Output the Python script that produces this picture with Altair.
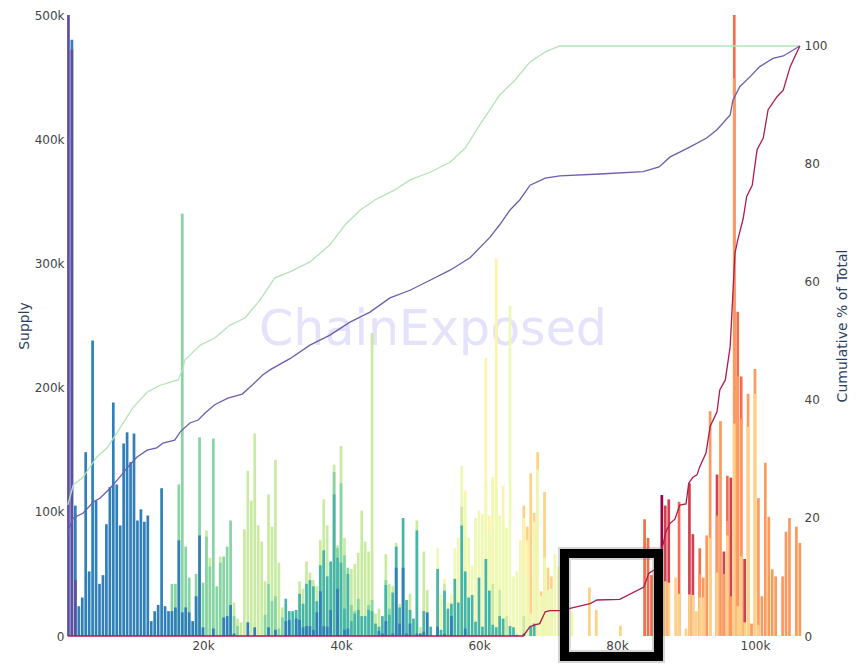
import altair as alt
import pandas as pd

# ---------------- data ----------------
BIN_WIDTH = 500  # price bins: bin k is centred on (k + 1) * 500 USD
# supply per price bin, in thousands, one dict per age band (bin index -> supply k)
CRIMSON = {172: 113.5}
RED = {173: 105, 174: 110, 180: 123, 181: 82, 188: 130, 190: 68, 192: 127.5, 196: 62}
REDORANGE = {167: 94, 168: 79, 169: 49, 177: 108, 183: 70.6, 191: 129, 193: 500,
             194: 261, 195: 209}
ORANGE = {183: 50, 184: 47, 185: 81, 186: 181, 188: 97, 189: 173, 190: 50, 191: 92.6,
          192: 32, 193: 449, 194: 209, 195: 175, 197: 195, 198: 10, 199: 215, 200: 111,
          201: 32, 202: 139.5, 203: 96, 204: 53.7, 205: 48, 207: 48, 208: 84, 209: 95,
          211: 88, 212: 75}
LIGHTORANGE = {132: 105, 133: 88, 134: 131, 135: 99, 136: 148, 137: 36, 138: 116,
               139: 55, 140: 48, 151: 39, 153: 21, 160: 8.3, 173: 44, 174: 43, 176: 47,
               177: 34, 179: 6, 180: 33.5, 181: 33, 182: 20, 183: 31, 184: 31, 186: 79,
               188: 51, 191: 81, 193: 171, 194: 24, 195: 64, 196: 11, 197: 168.5,
               199: 195, 200: 9}
YELLOW = {109: 46, 115: 117, 121: 224, 122: 97, 123: 128, 124: 304, 126: 121, 132: 95,
          133: 77, 135: 92}
PALEYELLOW = {107: 70.6, 108: 33, 110: 27, 111: 33.5, 112: 70.6, 113: 79, 114: 137,
              115: 112, 116: 79, 117: 57, 118: 95, 119: 101, 120: 98, 121: 123, 122: 85,
              123: 128, 124: 120, 125: 97, 126: 90, 127: 87, 128: 266, 129: 48, 130: 52,
              131: 77, 132: 60, 133: 49, 134: 18, 135: 77, 136: 134, 137: 32, 138: 63,
              139: 37, 140: 38, 141: 66, 142: 56, 146: 19.6}
LIGHTGREEN = {40: 85, 41: 63, 44: 64, 48: 27, 49: 14, 50: 11, 51: 86, 52: 133, 53: 109,
              54: 163, 55: 89, 56: 76, 57: 44, 58: 114, 59: 88, 60: 142, 61: 59, 62: 23,
              67: 44, 68: 38, 69: 60, 70: 51, 71: 45, 72: 40, 73: 77, 74: 110, 75: 89,
              77: 138, 78: 73, 79: 153, 80: 79, 82: 54, 83: 58, 84: 67, 85: 101, 86: 76,
              87: 68, 88: 244, 89: 18, 90: 22, 92: 66, 93: 42, 94: 40, 95: 75, 96: 26,
              99: 34, 101: 93, 102: 7, 103: 68, 104: 37, 109: 42, 114: 104, 123: 42,
              125: 37, 127: 16, 132: 16}
GREEN = {30: 42, 31: 42, 32: 122, 33: 340, 34: 72, 35: 47, 37: 50, 38: 160, 39: 43,
         40: 80, 41: 56, 42: 159, 43: 40, 44: 59, 45: 64, 46: 72, 47: 93, 48: 16, 49: 8,
         57: 17, 58: 42, 59: 28, 60: 32, 61: 6, 62: 15, 77: 132, 78: 71, 79: 123, 80: 65,
         81: 55, 82: 25, 83: 20, 84: 30, 87: 25, 88: 29, 92: 45, 93: 22}
TEAL = {63: 30, 64: 20, 65: 20, 66: 21, 67: 34, 68: 26, 69: 42, 70: 45, 71: 40, 72: 28,
        73: 57, 74: 69, 75: 48, 76: 60, 77: 114, 78: 63, 79: 59, 80: 22, 81: 50, 82: 12,
        83: 18, 84: 21, 85: 16, 86: 16, 87: 21, 88: 20, 89: 10, 90: 7.5, 91: 16, 92: 41,
        93: 17, 94: 35, 95: 72, 96: 23, 97: 95, 98: 29, 99: 21, 100: 14, 101: 85, 103: 20,
        105: 7.5, 107: 54, 108: 5, 109: 36.5, 110: 22, 111: 26, 112: 46, 113: 27, 114: 89,
        115: 52, 116: 31, 117: 33, 118: 11.5, 119: 47, 120: 7.5, 121: 62, 122: 36.5,
        123: 9, 124: 7, 125: 16, 126: 14, 128: 8, 129: 7, 130: 1, 134: 7.5, 135: 10}
BLUE = {1: 480, 2: 105, 3: 24, 4: 31, 5: 148, 6: 52, 7: 238, 8: 109, 9: 42, 10: 49,
        11: 90, 12: 120, 13: 188, 14: 122, 15: 89, 16: 155, 17: 164, 18: 140, 19: 163,
        20: 93, 21: 102, 22: 92, 23: 97, 24: 12, 25: 20, 26: 25, 27: 119, 28: 24, 29: 20,
        30: 20, 31: 23, 32: 77, 33: 19, 34: 23, 35: 19, 36: 12, 37: 32, 38: 81, 39: 7,
        42: 6, 45: 15, 46: 16, 47: 25, 48: 2, 52: 11, 54: 7, 58: 7, 60: 5, 63: 12, 64: 13,
        66: 14, 67: 13, 68: 7, 69: 8, 70: 8, 71: 5, 72: 19, 73: 36, 74: 8, 75: 7.5, 76: 21,
        78: 38, 80: 5, 81: 6, 90: 4, 91: 2, 92: 12, 94: 2, 95: 55, 96: 10, 97: 55, 98: 2,
        99: 10, 101: 2, 102: 2, 103: 3.5, 104: 19, 107: 7.5, 109: 1.6, 111: 16, 115: 6,
        132: 2}
PURPLE = {0: 500, 1: 472, 2: 45}

# drawing order: back to front
SERIES = [
    ("crimson", CRIMSON, "#9e0142"),
    ("red", RED, "#d5404f"),
    ("redorange", REDORANGE, "#f46c4b"),
    ("orange", ORANGE, "#fd9a5b"),
    ("lightorange", LIGHTORANGE, "#fed183"),
    ("yellow", YELLOW, "#fff3ac"),
    ("paleyellow", PALEYELLOW, "#eef9b4"),
    ("lightgreen", LIGHTGREEN, "#c9eba1"),
    ("green", GREEN, "#87d4a4"),
    ("teal", TEAL, "#46b5a9"),
    ("blue", BLUE, "#2f80ba"),
    ("purple", PURPLE, "#5e4fa2"),
]

# cumulative % of total lines (price in thousands, percent)
GREEN_PRICE_K = [0.4, 1.2, 2.6, 3.6, 4.6, 6.1, 7.5, 9.9, 12.0, 13.8, 16.4, 17.0, 17.4,
                 19.6, 21.7, 23.9, 26.1, 28.3, 30.4, 32.6, 35.5, 38.4, 40.6, 42.8, 44.9,
                 47.8, 50.0, 52.9, 55.8, 58.0, 60.1, 61.6, 63.0, 65.2, 67.4, 69.6, 71.7,
                 106.5]
GREEN_PCT = [22.2, 25.6, 26.9, 28.6, 30.3, 31.9, 34.4, 38.8, 41.4, 42.5, 43.4, 45.1, 46.8,
             49.3, 50.5, 52.7, 53.9, 57.0, 60.7, 61.7, 63.4, 66.3, 69.7, 72.2, 73.9, 75.6,
             77.3, 78.6, 80.3, 82.7, 86.6, 89.2, 91.7, 94.2, 97.3, 99.0, 100, 100]
PURPLE_PRICE_K = [0.5, 1.2, 2.6, 4.1, 5.1, 6.5, 8.0, 9.0, 10.4, 11.9, 13.3, 14.2, 15.9,
                  16.7, 18.1, 19.3, 20.3, 21.7, 23.6, 25.7, 27.1, 28.6, 29.7, 32.6, 35.5,
                  38.4, 41.3, 44.2, 47.1, 50.0, 52.9, 55.8, 58.7, 61.6, 63.0, 64.5, 65.9,
                  67.4, 69.6, 71.7, 77.5, 83.8, 86.1, 87.7, 89.1, 90.6, 93.0, 94.5, 96.4,
                  96.8, 97.8, 99.3, 100.7, 102.6, 104.1, 106.5]
PURPLE_PCT = [18.0, 20.0, 20.8, 22.7, 23.4, 25.0, 27.0, 28.5, 30.3, 31.5, 31.9, 32.7,
              33.2, 34.6, 36.1, 36.6, 37.8, 39.2, 40.3, 41.0, 42.5, 44.2, 45.1, 47.0,
              49.3, 51.0, 53.2, 54.9, 57.3, 58.6, 60.3, 62.0, 64.1, 67.6, 69.7, 72.2,
              73.9, 76.4, 77.6, 78.0, 78.3, 78.7, 79.5, 81.2, 82.0, 82.9, 84.4, 85.8,
              88.3, 90.8, 93.1, 94.8, 96.5, 97.9, 98.3, 100]
CRIMSON_PRICE_K = [0.4, 66.4, 67.4, 68.1, 68.8, 69.6, 70.3, 71.7, 73.2, 76.1, 77.1, 80.4,
                   83.9, 84.6, 85.5, 86.5, 87.1, 87.7, 88.4, 89.1, 90.0, 90.4, 91.0, 91.6,
                   92.0, 92.9, 93.5, 94.5, 94.9, 95.7, 96.4, 96.8, 97.1, 97.5, 98.3, 98.8,
                   99.6, 100.3, 101.2, 101.9, 103.2, 104.1, 105.1, 106.5]
CRIMSON_PCT = [0, 0, 1.6, 1.9, 2.1, 4.1, 4.3, 4.3, 4.7, 5.5, 6.1, 6.2, 8.3, 10.6, 11.3,
               14.6, 17.7, 19.1, 19.8, 22.2, 22.4, 25.9, 26.9, 27.3, 28.7, 31.0, 35.5,
               38.0, 41.7, 43.4, 49.0, 58.0, 64.9, 67.1, 70.8, 74.5, 76.4, 82.4, 84.4,
               89.2, 91.4, 92.5, 96.5, 100]

LINES = [
    ("Short", GREEN_PRICE_K, GREEN_PCT, "#b5e3b8"),
    ("All", PURPLE_PRICE_K, PURPLE_PCT, "#6f5cae"),
    ("Long", CRIMSON_PRICE_K, CRIMSON_PCT, "#b01a4f"),
]

X_TICKS = [20000, 40000, 60000, 80000, 100000]
Y_TICKS = [0, 100000, 200000, 300000, 400000, 500000]
PCT_TICKS = [0, 20, 40, 60, 80, 100]

# annotation box (price, supply) corners
BOX = {"x1": [72390], "x2": [86010], "y1": [66400], "y2": [-16500]}

# ---------------- tables ----------------
bar_rows = []
for name, d, _ in SERIES:
    for k, v in d.items():
        bar_rows.append({"price": (k + 1) * BIN_WIDTH, "supply": v * 1000, "band": name})
bars_df = pd.DataFrame(bar_rows)

line_rows = []
for name, px, pc, _ in LINES:
    for i, (p, c) in enumerate(zip(px, pc)):
        line_rows.append({"price": p * 1000, "pct": c, "line": name, "i": i})
lines_df = pd.DataFrame(line_rows)

W, H = 736, 621
FONT = "DejaVu Sans"
xscale = alt.Scale(domain=[0, 106670], nice=False, zero=False, padding=0)
yscale = alt.Scale(domain=[0, 500000], nice=False, padding=0)
x_axis = alt.Axis(values=X_TICKS, labelExpr="format(datum.value / 1000, 'd') + 'k'",
                  title=None, labelPadding=4)

watermark = alt.Chart(pd.DataFrame({"t": ["ChainExposed"]})).mark_text(
    font=FONT, fontSize=49, color="#e5e2fc", align="center", baseline="alphabetic"
).encode(text="t:N", x=alt.value(368), y=alt.value(330))

bars = alt.Chart(bars_df).mark_bar(width=2.7).encode(
    x=alt.X("price:Q", scale=xscale, axis=x_axis),
    y=alt.Y("supply:Q", stack=None, scale=yscale,
            axis=alt.Axis(orient="left", values=Y_TICKS,
                          labelExpr="datum.value == 0 ? '0' : format(datum.value / 1000, 'd') + 'k'",
                          title="Supply", labelPadding=1,
                          titleX=-41, titleY=H / 2, titleAngle=270,
                          titleBaseline="middle", titleAlign="center")),
    color=alt.Color("band:N", legend=None,
                    scale=alt.Scale(domain=[s[0] for s in SERIES],
                                    range=[s[2] for s in SERIES])),
)

lines = alt.Chart(lines_df).mark_line(strokeWidth=1.3).encode(
    x=alt.X("price:Q", scale=xscale, axis=x_axis),
    y=alt.Y("pct:Q", scale=alt.Scale(domain=[0, 105.25], nice=False),
            axis=alt.Axis(orient="right", values=PCT_TICKS,
                          title="Cumulative % of Total", labelPadding=3,
                          titleX=41, titleY=H / 2, titleAngle=270,
                          titleBaseline="middle", titleAlign="center")),
    color=alt.Color("line:N", legend=None,
                    scale=alt.Scale(domain=[l[0] for l in LINES],
                                    range=[l[3] for l in LINES])),
    order="i:Q",
)

box_df = pd.DataFrame(BOX)
box_shadow = alt.Chart(box_df).mark_rect(
    fillOpacity=0, stroke="#777777", strokeOpacity=0.3, strokeWidth=13
).encode(
    x=alt.X("x1:Q", scale=xscale, axis=x_axis), x2="x2:Q",
    y=alt.Y("y1:Q", scale=yscale, axis=None), y2="y2:Q",
)
box = alt.Chart(box_df).mark_rect(
    fillOpacity=0, stroke="black", strokeWidth=9
).encode(
    x=alt.X("x1:Q", scale=xscale, axis=x_axis), x2="x2:Q",
    y=alt.Y("y1:Q", scale=yscale, axis=None), y2="y2:Q",
)

chart = alt.layer(watermark, bars, lines, box_shadow, box).resolve_scale(
    y="independent", color="independent"
).properties(
    width=W, height=H,
    autosize=alt.AutoSizeParams(type="none"),
    padding={"left": 57, "top": 7, "right": 52, "bottom": 28},
).configure_view(stroke=None).configure_axis(
    grid=False, domain=False, ticks=False,
    labelFont=FONT, labelFontSize=12, labelColor="#444444",
    titleFont=FONT, titleFontSize=14, titleFontWeight="normal", titleColor="#2a3f5f",
)

chart.save("out.html", embed_options={"renderer": "svg", "actions": False})
